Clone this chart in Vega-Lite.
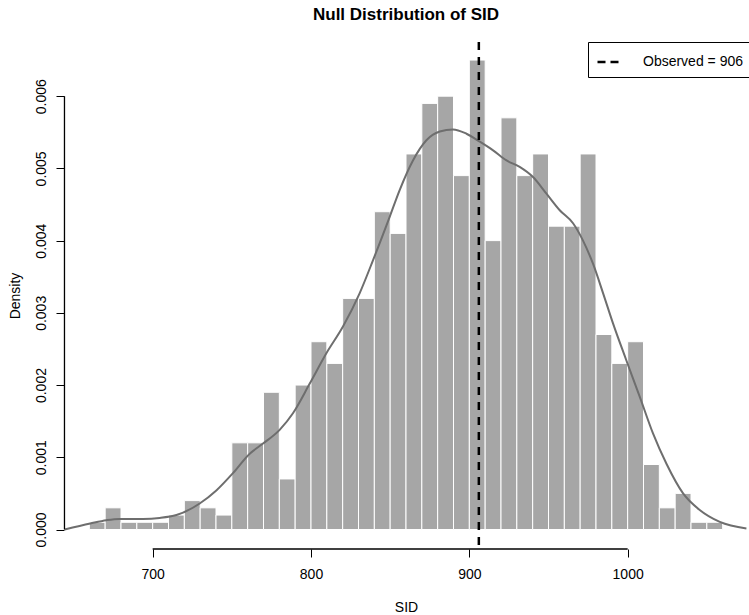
{
  "$schema": "https://vega.github.io/schema/vega-lite/v6.json",
  "width": 684,
  "height": 507,
  "autosize": {"type": "none"},
  "padding": {"left": 64, "top": 42, "right": 1, "bottom": 66},
  "background": "white",
  "config": {"view": {"stroke": null}, "font": "Liberation Sans"},
  "title": {"text": "Null Distribution of SID", "fontSize": 17, "fontWeight": "bold", "anchor": "middle", "baseline": "alphabetic", "offset": 4, "color": "black", "font": "Liberation Sans"},
  "datasets": {
    "hist": [
      {"bin_start": 660, "bin_end": 670, "density": 0.0001},
      {"bin_start": 670, "bin_end": 680, "density": 0.0003},
      {"bin_start": 680, "bin_end": 690, "density": 0.0001},
      {"bin_start": 690, "bin_end": 700, "density": 0.0001},
      {"bin_start": 700, "bin_end": 710, "density": 0.0001},
      {"bin_start": 710, "bin_end": 720, "density": 0.0002},
      {"bin_start": 720, "bin_end": 730, "density": 0.0004},
      {"bin_start": 730, "bin_end": 740, "density": 0.0003},
      {"bin_start": 740, "bin_end": 750, "density": 0.0002},
      {"bin_start": 750, "bin_end": 760, "density": 0.0012},
      {"bin_start": 760, "bin_end": 770, "density": 0.0012},
      {"bin_start": 770, "bin_end": 780, "density": 0.0019},
      {"bin_start": 780, "bin_end": 790, "density": 0.0007},
      {"bin_start": 790, "bin_end": 800, "density": 0.002},
      {"bin_start": 800, "bin_end": 810, "density": 0.0026},
      {"bin_start": 810, "bin_end": 820, "density": 0.0023},
      {"bin_start": 820, "bin_end": 830, "density": 0.0032},
      {"bin_start": 830, "bin_end": 840, "density": 0.0032},
      {"bin_start": 840, "bin_end": 850, "density": 0.0044},
      {"bin_start": 850, "bin_end": 860, "density": 0.0041},
      {"bin_start": 860, "bin_end": 870, "density": 0.0052},
      {"bin_start": 870, "bin_end": 880, "density": 0.0059},
      {"bin_start": 880, "bin_end": 890, "density": 0.006},
      {"bin_start": 890, "bin_end": 900, "density": 0.0049},
      {"bin_start": 900, "bin_end": 910, "density": 0.0065},
      {"bin_start": 910, "bin_end": 920, "density": 0.004},
      {"bin_start": 920, "bin_end": 930, "density": 0.0057},
      {"bin_start": 930, "bin_end": 940, "density": 0.0049},
      {"bin_start": 940, "bin_end": 950, "density": 0.0052},
      {"bin_start": 950, "bin_end": 960, "density": 0.0042},
      {"bin_start": 960, "bin_end": 970, "density": 0.0042},
      {"bin_start": 970, "bin_end": 980, "density": 0.0052},
      {"bin_start": 980, "bin_end": 990, "density": 0.0027},
      {"bin_start": 990, "bin_end": 1000, "density": 0.0023},
      {"bin_start": 1000, "bin_end": 1010, "density": 0.0026},
      {"bin_start": 1010, "bin_end": 1020, "density": 0.0009},
      {"bin_start": 1020, "bin_end": 1030, "density": 0.0003},
      {"bin_start": 1030, "bin_end": 1040, "density": 0.0005},
      {"bin_start": 1040, "bin_end": 1050, "density": 0.0001},
      {"bin_start": 1050, "bin_end": 1060, "density": 0.0001}
    ],
    "kde": [
      {"x": 644.4, "y": 0.0},
      {"x": 660.6, "y": 0.000083},
      {"x": 670.8, "y": 0.000129},
      {"x": 679.0, "y": 0.000147},
      {"x": 693.9, "y": 0.000147},
      {"x": 704.4, "y": 0.00016},
      {"x": 715.0, "y": 0.0002},
      {"x": 729.7, "y": 0.00036},
      {"x": 740.2, "y": 0.00054},
      {"x": 750.7, "y": 0.00078},
      {"x": 761.3, "y": 0.00105},
      {"x": 769.7, "y": 0.00119},
      {"x": 780.2, "y": 0.00138},
      {"x": 788.6, "y": 0.00161},
      {"x": 799.2, "y": 0.00202},
      {"x": 809.7, "y": 0.00244},
      {"x": 820.2, "y": 0.00281},
      {"x": 830.7, "y": 0.00327},
      {"x": 839.2, "y": 0.00373},
      {"x": 849.7, "y": 0.00433},
      {"x": 856.0, "y": 0.0047},
      {"x": 864.4, "y": 0.00511},
      {"x": 872.9, "y": 0.00539},
      {"x": 881.3, "y": 0.00551},
      {"x": 889.7, "y": 0.00554},
      {"x": 898.2, "y": 0.00548},
      {"x": 906.6, "y": 0.00537},
      {"x": 915.0, "y": 0.00525},
      {"x": 923.5, "y": 0.00511},
      {"x": 931.8, "y": 0.00502},
      {"x": 940.2, "y": 0.00488},
      {"x": 948.7, "y": 0.00465},
      {"x": 957.1, "y": 0.00442},
      {"x": 965.5, "y": 0.00424},
      {"x": 971.8, "y": 0.004},
      {"x": 978.1, "y": 0.00368},
      {"x": 984.5, "y": 0.00327},
      {"x": 990.8, "y": 0.00285},
      {"x": 999.2, "y": 0.00234},
      {"x": 1007.6, "y": 0.00184},
      {"x": 1016.0, "y": 0.00133},
      {"x": 1024.5, "y": 0.00091},
      {"x": 1035.0, "y": 0.0005},
      {"x": 1045.5, "y": 0.00027},
      {"x": 1058.2, "y": 0.000105},
      {"x": 1075.0, "y": 0.000014}
    ],
    "observed": [{"value": 906, "label": "Observed = 906"}],
    "yaxis": [{"x": 644.3, "y0": 0, "y1": 0.006}],
    "xaxis": [{"x0": 700, "x1": 1000, "y": -0.00027}]
  },
  "layer": [
    {
      "data": {"name": "hist"},
      "mark": {"type": "rect", "fill": "#a6a6a6", "stroke": "white", "strokeWidth": 1},
      "encoding": {
        "x": {"field": "bin_start", "type": "quantitative", "scale": {"domain": [644, 1076], "nice": false, "zero": false},
          "axis": {"values": [700, 800, 900, 1000], "format": "d", "domain": false, "grid": false, "tickSize": 8, "tickColor": "black", "labelPadding": 10, "labelBaseline": "top", "labelFontSize": 14, "labelColor": "black", "labelFont": "Liberation Sans", "title": "SID", "titleFontSize": 14, "titleFontWeight": "normal", "titleColor": "black", "titleFont": "Liberation Sans", "titlePadding": 19}},
        "x2": {"field": "bin_end"},
        "y": {"field": "density", "type": "quantitative", "scale": {"domain": [-0.00027, 0.00675], "nice": false, "zero": false},
          "axis": {"values": [0, 0.001, 0.002, 0.003, 0.004, 0.005, 0.006], "format": ".3f", "domain": false, "grid": false, "tickSize": 8, "tickColor": "black", "labelAngle": 270, "labelAlign": "center", "labelBaseline": "alphabetic", "labelPadding": 11, "labelFontSize": 14, "labelColor": "black", "labelFont": "Liberation Sans", "title": "Density", "titleFontSize": 14, "titleFontWeight": "normal", "titleColor": "black", "titleFont": "Liberation Sans", "titlePadding": 12}},
        "y2": {"datum": 0}
      }
    },
    {
      "data": {"name": "kde"},
      "mark": {"type": "line", "color": "#6e6e6e", "strokeWidth": 2, "interpolate": "monotone"},
      "encoding": {
        "x": {"field": "x", "type": "quantitative"},
        "y": {"field": "y", "type": "quantitative"}
      }
    },
    {
      "data": {"name": "yaxis"},
      "mark": {"type": "rule", "color": "black", "strokeWidth": 1.3},
      "encoding": {
        "x": {"field": "x", "type": "quantitative"},
        "y": {"field": "y0", "type": "quantitative"},
        "y2": {"field": "y1"}
      }
    },
    {
      "data": {"name": "xaxis"},
      "mark": {"type": "rule", "color": "black", "strokeWidth": 1.3},
      "encoding": {
        "x": {"field": "x0", "type": "quantitative"},
        "x2": {"field": "x1"},
        "y": {"field": "y", "type": "quantitative"}
      }
    },
    {
      "data": {"name": "observed"},
      "mark": {"type": "rule", "color": "black", "strokeWidth": 2.5, "strokeDash": [8, 7]},
      "encoding": {
        "x": {"field": "value", "type": "quantitative"},
        "color": {"field": "label", "type": "nominal",
          "scale": {"domain": ["Observed = 906"], "range": ["black"]},
          "legend": {"title": null, "orient": "none", "legendX": 524, "legendY": 0, "padding": 8, "strokeColor": "black", "fillColor": "white", "cornerRadius": 0, "symbolType": "stroke", "symbolSize": 441, "symbolStrokeWidth": 2.5, "symbolDash": [8, 5], "labelFontSize": 14, "labelFont": "Liberation Sans", "labelColor": "black", "labelOffset": 23}}
      }
    }
  ]
}
